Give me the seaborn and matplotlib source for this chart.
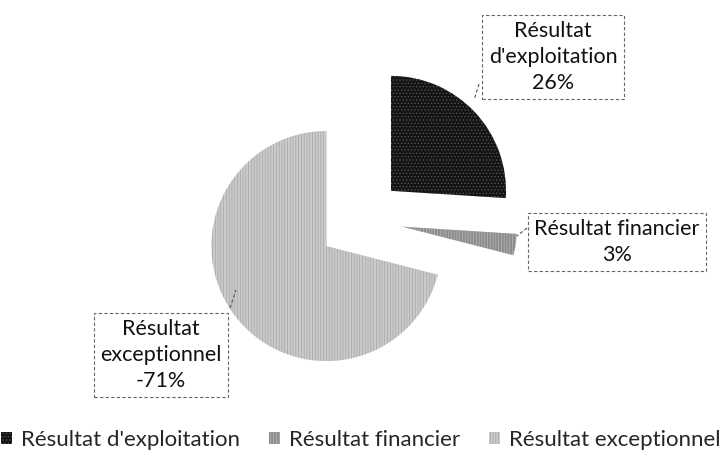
import matplotlib
matplotlib.use("Agg")
import matplotlib.pyplot as plt
import seaborn as sns

# données
categories = ["Résultat d'exploitation", "Résultat financier", "Résultat exceptionnel"]
parts = [26, 3, 71]
box_texts = ["Résultat\nd'exploitation\n26%", "Résultat financier\n3%", "Résultat\nexceptionnel\n-71%"]

sns.set_theme(style="white")
plt.rcParams['font.family'] = ['Lato', 'DejaVu Sans']
plt.rcParams['hatch.linewidth'] = 0.5

colors = ["#141414", "#8c8c8c", "#cbcbcb"]
hatch_colors = ["#5a5a5a", "#b8b8b8", "#a4a4a4"]
hatches = ['.....', '||||||', '||||||']

fig = plt.figure(figsize=(7.22, 4.63), dpi=100)
ax = fig.add_axes([0, 0, 1, 1])

R = 115.0  # rayon en pixels
cx, cy = 360, 220  # centre du camembert en pixels


def px(x, y):
    # pixel -> coordonnées de l'axe
    return (x - cx) / R, (cy - y) / R


wedges, _ = ax.pie(parts, colors=colors, startangle=90, counterclock=False,
                   explode=[0.37, 0.37, 0.37], radius=1,
                   wedgeprops=dict(linewidth=0))
for w, h, hc in zip(wedges, hatches, hatch_colors):
    w.set_hatch(h)
    w.set_edgecolor(hc)
    w.set_linewidth(0)

ax.set_xlim(-cx / R, (722 - cx) / R)
ax.set_ylim(-(463 - cy) / R, cy / R)
ax.set_aspect('equal')
ax.axis('off')

# étiquettes encadrées
box_pos = [(553, 57), (617, 242), (161, 355)]
for txt, (bx, by) in zip(box_texts, box_pos):
    ax.text(*px(bx, by), txt, ha='center', va='center', fontsize=15.5,
            linespacing=1.35, color='#111111',
            bbox=dict(boxstyle='square,pad=0.3', fc='white', ec='#666666',
                      ls=(0, (3, 2)), lw=0.8))

# traits de rappel
leaders = [((479, 84), (474, 100)), ((527, 228), (517, 236)), ((230, 308), (236, 290))]
for (x0, y0), (x1, y1) in leaders:
    a = px(x0, y0)
    b = px(x1, y1)
    ax.plot([a[0], b[0]], [a[1], b[1]], color='#555555', lw=0.8, ls=(0, (3, 2)))

leg = fig.legend(wedges, categories, loc='lower center', bbox_to_anchor=(0.5, -0.015),
                 ncol=3, frameon=False, fontsize=16, handlelength=0.5, handleheight=0.5,
                 handletextpad=0.4, columnspacing=1.3)

plt.savefig('out.png', dpi=100)
